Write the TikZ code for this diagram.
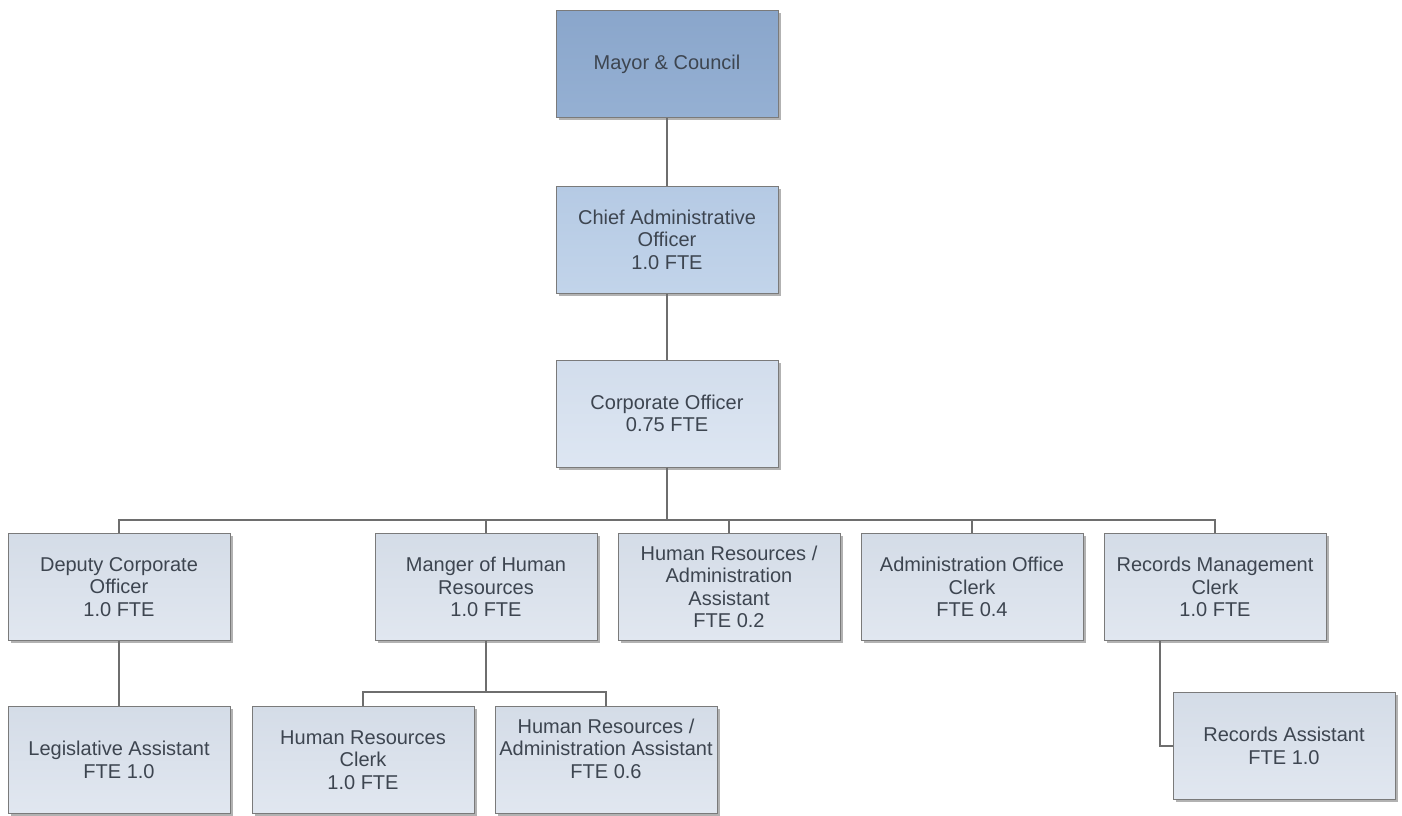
\documentclass[tikz,border=0pt]{standalone}
\usepackage{fontspec}
\setmainfont{Liberation Sans}
\usetikzlibrary{shadows}
\definecolor{txt}{HTML}{3D4550}
\definecolor{edge}{HTML}{7A7A7A}
\definecolor{wire}{HTML}{6E6E6E}
\begin{document}
\begin{tikzpicture}[x=1pt,y=-1pt,
  box/.style={draw=edge, line width=1pt, minimum width=222pt, minimum height=107pt,
    inner sep=0pt, align=center, text=txt, font=\fontsize{20}{22.5}\selectfont,
    drop shadow={shadow xshift=2.5pt, shadow yshift=-2.5pt, opacity=0.55, fill=black!55}},
  mayorbox/.style={box, top color=mayortop, bottom color=mayorbot},
  caobox/.style={box, top color=caotop, bottom color=caobot},
  corpbox/.style={box, top color=corptop, bottom color=corpbot},
  staffbox/.style={box, top color=stafftop, bottom color=staffbot},
  link/.style={draw=wire, line width=1.3pt}]
\definecolor{mayortop}{HTML}{8AA6CB}
\definecolor{mayorbot}{HTML}{95B0D3}
\definecolor{caotop}{HTML}{B5CAE4}
\definecolor{caobot}{HTML}{C2D4EA}
\definecolor{corptop}{HTML}{D2DDEC}
\definecolor{corpbot}{HTML}{DDE6F2}
\definecolor{stafftop}{HTML}{D4DCE7}
\definecolor{staffbot}{HTML}{E1E7F0}
\fill[white] (0,0) rectangle (1402,816);
\useasboundingbox (0,0) rectangle (1402,816);

% top of the hierarchy
\node[mayorbox] (mayor) at (667,64) {Mayor \& Council};
\node[caobox] (cao) at (667,239.5) {Chief Administrative\\Officer\\1.0 FTE};
\node[corpbox] (corp) at (667,413.5) {Corporate Officer\\0.75 FTE};

% direct reports of the Corporate Officer
\node[staffbox] (deputy) at (119,587) {Deputy Corporate\\Officer\\1.0 FTE};
\node[staffbox] (mhr) at (486,587) {Manger of Human\\Resources\\1.0 FTE};
\node[staffbox] (hraa) at (729,587) {Human Resources /\\Administration\\Assistant\\FTE 0.2};
\node[staffbox] (aoc) at (972,587) {Administration Office\\Clerk\\FTE 0.4};
\node[staffbox] (rmc) at (1215,587) {Records Management\\Clerk\\1.0 FTE};

% lowest level
\node[staffbox] (legis) at (119,760) {Legislative Assistant\\FTE 1.0};
\node[staffbox] (hrc) at (363,760) {Human Resources\\Clerk\\1.0 FTE};
\node[staffbox] (hraa2) at (606,760) {Human Resources /\\Administration Assistant\\FTE 0.6\\[-6pt]\strut};
\node[staffbox] (recasst) at (1284,746) {Records Assistant\\FTE 1.0};

% connectors
\coordinate (bus) at (0,520);
\coordinate (bus2) at (0,692);
\draw[link] (mayor.south) -- (cao.north);
\draw[link] (cao.south) -- (corp.north);
\foreach \c in {deputy,mhr,hraa,aoc,rmc}
  \draw[link] (corp.south) -- (corp.south |- bus) -| (\c.north);
\draw[link] (deputy.south) -- (legis.north);
\foreach \c in {hrc,hraa2}
  \draw[link] (mhr.south) -- (mhr.south |- bus2) -| (\c.north);
\draw[link] ([xshift=-55pt]rmc.south) |- (recasst.west);
\end{tikzpicture}
\end{document}
